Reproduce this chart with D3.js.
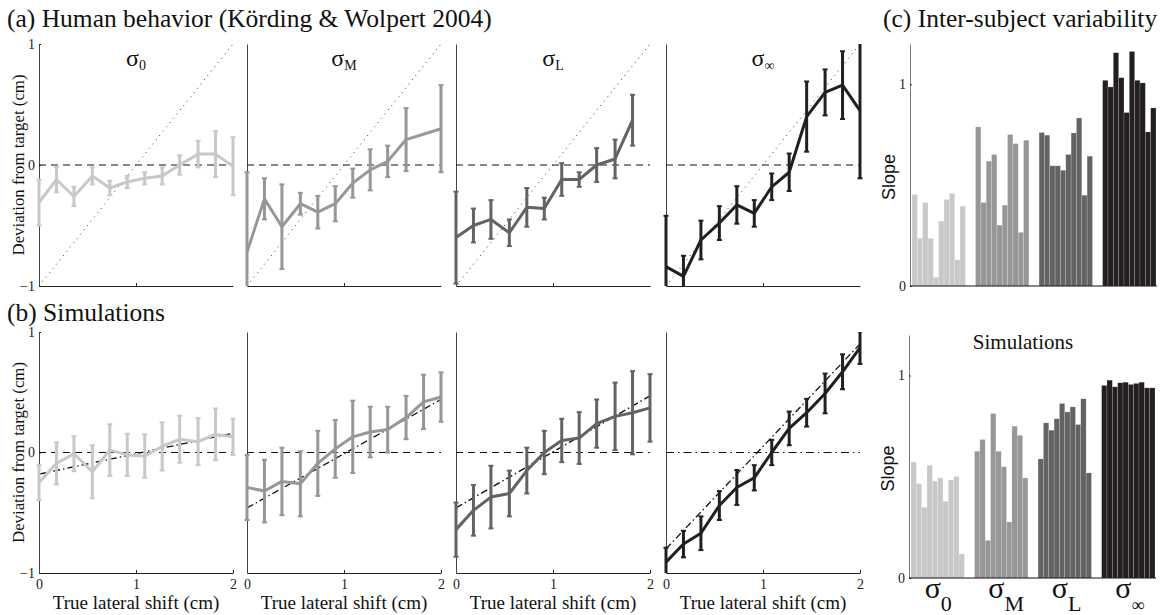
<!DOCTYPE html>
<html>
<head>
<meta charset="utf-8">
<script src="https://cdn.jsdelivr.net/npm/d3@7"></script>
<style>
body{margin:0;background:#fff}
svg{display:block}
.serif{font-family:"Liberation Serif","Times New Roman",serif}
.sans{font-family:"Liberation Sans",Arial,sans-serif}
</style>
</head>
<body>
<svg id="fig" width="1171" height="615"></svg>
<script>
'use strict';

/* ─────────────────────────────────────────────
   DATA
───────────────────────────────────────────── */
const SHIFT = [0,0.18,0.36,0.55,0.73,0.91,1.09,1.27,1.45,1.64,1.82,2];
const COND = ['0','M','L','∞'];
const COLORS = ['#c8c8c8','#97979a','#636365','#231f20'];

// (a) human behaviour : mean deviation and error half-width
const HUM_0_MEAN = [-0.31,-0.12,-0.26,-0.09,-0.19,-0.14,-0.11,-0.09,0.00,0.09,0.09,-0.01];
const HUM_0_ERR  = [0.19,0.105,0.08,0.07,0.06,0.05,0.05,0.07,0.08,0.11,0.19,0.24];
const HUM_M_MEAN = [-0.72,-0.28,-0.51,-0.32,-0.39,-0.32,-0.15,-0.04,0.03,0.21,null,0.30];
const HUM_M_ERR  = [0.66,0.17,0.35,0.09,0.135,0.145,0.12,0.17,0.13,0.26,null,0.36];
const HUM_L_MEAN = [-0.60,-0.50,-0.45,-0.56,-0.35,-0.36,-0.12,-0.12,0.00,0.05,0.37,null];
const HUM_L_ERR  = [0.38,0.14,0.16,0.11,0.16,0.09,0.135,0.06,0.14,0.16,0.21,null];
const HUM_I_MEAN = [-0.84,-0.92,-0.62,-0.48,-0.33,-0.40,-0.18,-0.06,0.40,0.60,0.66,0.45];
const HUM_I_ERR  = [0.42,0.17,0.16,0.14,0.155,0.11,0.11,0.155,0.29,0.19,0.28,0.56];

// (b) simulations
const SIM_0_MEAN = [-0.25,-0.09,-0.01,-0.16,0.02,-0.02,-0.03,0.05,0.11,0.09,0.15,0.13];
const SIM_0_ERR  = [0.145,0.175,0.145,0.22,0.215,0.175,0.18,0.2,0.195,0.195,0.215,0.15];
const SIM_M_MEAN = [-0.29,-0.32,-0.24,-0.26,-0.09,0.03,0.13,0.17,0.19,0.29,0.42,0.46];
const SIM_M_ERR  = [0.27,0.26,0.28,0.27,0.27,0.24,0.30,0.21,0.19,0.18,0.225,0.205];
const SIM_L_MEAN = [-0.64,-0.48,-0.37,-0.34,-0.15,0.00,0.10,0.12,0.24,0.30,0.33,0.37];
const SIM_L_ERR  = [0.225,0.21,0.26,0.19,0.19,0.18,0.18,0.215,0.2,0.28,0.345,0.28];
const SIM_I_MEAN = [-0.91,-0.76,-0.67,-0.44,-0.29,-0.21,0.00,0.20,0.33,0.49,0.67,0.87];
const SIM_I_ERR  = [0.12,0.11,0.14,0.12,0.145,0.105,0.105,0.14,0.115,0.165,0.145,0.135];

// linear fits drawn in the simulation panels (value at shift 0 and at shift 2)
const FIT_AT_0 = [-0.18,-0.46,-0.46,-0.80];
const FIT_AT_2 = [0.16,0.44,0.47,0.90];
// reference line: no prior (full correction)
const REF_LINE = [[0,-1],[2,1]];

// (c) slopes per subject
const SLOPE_HUM_0 = [0.454,0.236,0.413,0.236,0.043,0.322,0.429,0.459,0.129,0.396];
const SLOPE_HUM_M = [0.789,0.414,0.619,0.652,0.302,0.401,0.751,0.706,0.266,0.723];
const SLOPE_HUM_L = [0.761,0.748,0.596,0.596,0.574,0.652,0.759,0.833,0.450,0.644];
const SLOPE_HUM_I = [1.020,0.987,1.157,1.033,0.860,1.163,1.020,1.007,0.764,0.883];
const SLOPE_SIM_0 = [0.572,0.466,0.349,0.557,0.478,0.494,0.379,0.484,0.501,0.119];
const SLOPE_SIM_M = [0.626,0.684,0.186,0.812,0.626,0.549,0.277,0.750,0.705,0.494];
const SLOPE_SIM_L = [0.588,0.766,0.730,0.786,0.862,0.820,0.845,0.758,0.885,0.519];
const SLOPE_SIM_I = [0.951,0.977,0.944,0.964,0.967,0.956,0.961,0.967,0.939,0.939];

const Y_TICKS = [-1,0,1];
const X_TICKS = [0,1,2];
const SLOPE_TICKS = [0,1];

/* ─────────────────────────────────────────────
   LAYOUT
───────────────────────────────────────────── */
const svg = d3.select('#fig');
const PANEL_X = [39,247,456,666];
const PANEL_W = 194;
const ROWS = [
  {top:44, bottom:286, human:true},
  {top:332, bottom:573, human:false}
];

const fmt = d => d < 0 ? '\u2212' + Math.abs(d) : String(d);

function series(meanArr, errArr){
  return SHIFT.map((s,i)=>({x:s, m:meanArr[i], e:errArr[i]}));
}

const HUMAN = [
  series(HUM_0_MEAN,HUM_0_ERR), series(HUM_M_MEAN,HUM_M_ERR),
  series(HUM_L_MEAN,HUM_L_ERR), series(HUM_I_MEAN,HUM_I_ERR)
];
const SIM = [
  series(SIM_0_MEAN,SIM_0_ERR), series(SIM_M_MEAN,SIM_M_ERR),
  series(SIM_L_MEAN,SIM_L_ERR), series(SIM_I_MEAN,SIM_I_ERR)
];

function sigmaLabel(sel, sub, subSize, dy){
  sel.append('tspan').text('σ');
  sel.append('tspan').attr('font-size',subSize).attr('dy',dy).text(sub);
}

/* ─────────────────────────────────────────────
   LINE PANELS
───────────────────────────────────────────── */
function drawPanel(row, p, data, rowIdx){
  const h = row.bottom - row.top;
  const x = d3.scaleLinear().domain([0,2]).range([0,PANEL_W]);
  const y = d3.scaleLinear().domain([-1,1]).range([h,0]);
  const g = svg.append('g').attr('transform',`translate(${PANEL_X[p]},${row.top})`);
  const clipId = `clip-${rowIdx}-${p}`;
  g.append('clipPath').attr('id',clipId)
    .append('rect').attr('x',-4).attr('y',0).attr('width',PANEL_W+8).attr('height',h);

  // axes
  const xAxis = d3.axisBottom(x).tickValues(row.human ? [1] : X_TICKS)
    .tickSize(-3).tickSizeOuter(0)
    .tickFormat(row.human ? () => '' : d3.format('d'));
  const xa = g.append('g').attr('transform',`translate(0,${h})`).call(xAxis);
  xa.select('.domain').attr('stroke','#222');
  xa.selectAll('.tick line').attr('stroke','#222');
  xa.selectAll('.tick text').attr('class','serif').attr('font-size',14)
    .attr('y',6).attr('dy','0.71em').attr('fill','#222');

  const yAxis = d3.axisLeft(y).tickValues(p === 0 ? Y_TICKS : []).tickSize(-2).tickSizeOuter(0).tickFormat(fmt);
  const ya = g.append('g').call(yAxis);
  ya.select('.domain').attr('stroke', '#444');
  ya.selectAll('.tick line').attr('stroke','#222');
  ya.selectAll('.tick text').attr('class','serif').attr('font-size',14).attr('x',-4).attr('fill','#222');

  const plot = g.append('g').attr('clip-path',`url(#${clipId})`);

  // zero line
  plot.append('line')
    .attr('x1',x(0)).attr('x2',x(2)).attr('y1',y(0)).attr('y2',y(0))
    .attr('stroke','#111').attr('stroke-width',1.2)
    .attr('stroke-dasharray', (!row.human && p === 3) ? '8,4,1.5,4' : '7,5');

  const ln = d3.line().x(d=>x(d[0])).y(d=>y(d[1]));
  if(row.human){
    plot.append('path').attr('d',ln(REF_LINE))
      .attr('fill','none').attr('stroke','#333').attr('stroke-width',1)
      .attr('stroke-dasharray','1,4.5');
  } else {
    plot.append('path').attr('d',ln([[0,FIT_AT_0[p]],[2,FIT_AT_2[p]]]))
      .attr('fill','none').attr('stroke','#111').attr('stroke-width',1.3)
      .attr('stroke-dasharray','7,3,1.5,3');
  }

  const col = COLORS[p];
  const pts = data.filter(d=>d.m !== null);

  // error bars
  const eb = plot.selectAll('.eb').data(pts).enter().append('g').attr('class','eb');
  eb.append('line')
    .attr('x1',d=>x(d.x)).attr('x2',d=>x(d.x))
    .attr('y1',d=>y(d.m - d.e)).attr('y2',d=>y(d.m + d.e))
    .attr('stroke',col).attr('stroke-width',3);
  eb.append('line')
    .attr('x1',d=>x(d.x)-2.5).attr('x2',d=>x(d.x)+2.5)
    .attr('y1',d=>y(d.m - d.e)).attr('y2',d=>y(d.m - d.e))
    .attr('stroke',col).attr('stroke-width',2);
  eb.append('line')
    .attr('x1',d=>x(d.x)-2.5).attr('x2',d=>x(d.x)+2.5)
    .attr('y1',d=>y(d.m + d.e)).attr('y2',d=>y(d.m + d.e))
    .attr('stroke',col).attr('stroke-width',2);

  // mean line
  plot.append('path')
    .datum(pts)
    .attr('d',d3.line().x(d=>x(d.x)).y(d=>y(d.m)))
    .attr('fill','none').attr('stroke',col).attr('stroke-width',3)
    .attr('stroke-linejoin','round');

  // condition title (top row) / x label (bottom row)
  if(row.human){
    const t = g.append('text').attr('class','serif')
      .attr('x',PANEL_W/2).attr('y',22).attr('text-anchor','middle')
      .attr('font-size',24).attr('fill','#111');
    sigmaLabel(t, COND[p], 14, 4);
  } else {
    g.append('text').attr('class','serif')
      .attr('x',PANEL_W/2).attr('y',h+36).attr('text-anchor','middle')
      .attr('font-size',19).attr('fill','#111')
      .text('True lateral shift (cm)');
  }

  if(p === 0){
    g.append('text').attr('class','serif')
      .attr('transform',`translate(-15,${h/2}) rotate(-90)`)
      .attr('text-anchor','middle').attr('font-size',16.8).attr('fill','#111')
      .text('Deviation from target (cm)');
  }
}

ROWS.forEach((row,ri)=>{
  const data = row.human ? HUMAN : SIM;
  PANEL_X.forEach((_,p)=>drawPanel(row,p,data[p],ri));
});

/* ─────────────────────────────────────────────
   SLOPE BARS
───────────────────────────────────────────── */
const BAR_ROWS = [
  {top:44, bottom:286, axisX:910, slopes:[SLOPE_HUM_0,SLOPE_HUM_M,SLOPE_HUM_L,SLOPE_HUM_I]},
  {top:335, bottom:578, axisX:909, slopes:[SLOPE_SIM_0,SLOPE_SIM_M,SLOPE_SIM_L,SLOPE_SIM_I]}
];

BAR_ROWS.forEach((br,bi)=>{
  const y = d3.scaleLinear().domain([0,1.2]).range([br.bottom,br.top]);
  const xG = d3.scaleBand().domain(COND).range([br.axisX+2, br.axisX+246]).paddingInner(0.16);
  const xB = d3.scaleBand().domain(d3.range(10)).range([0,xG.bandwidth()]);
  const g = svg.append('g');

  COND.forEach((c,ci)=>{
    g.append('g').attr('transform',`translate(${xG(c)},0)`)
      .selectAll('rect').data(br.slopes[ci]).enter().append('rect')
      .attr('x',(d,i)=>xB(i)).attr('width',xB.bandwidth())
      .attr('y',d=>y(d)).attr('height',d=>y(0)-y(d))
      .attr('fill',COLORS[ci])
      .attr('stroke','rgba(255,255,255,0.35)').attr('stroke-width',0.5);
  });

  // axes
  const ya = g.append('g').attr('transform',`translate(${br.axisX},0)`)
    .call(d3.axisLeft(y).tickValues(SLOPE_TICKS).tickSize(-2).tickSizeOuter(0).tickFormat(d3.format('d')));
  ya.select('.domain').attr('stroke','#777');
  ya.selectAll('.tick line').attr('stroke','#333');
  ya.selectAll('.tick text').attr('class','serif').attr('font-size',14).attr('x',-4).attr('fill','#222');

  g.append('line').attr('x1',br.axisX).attr('x2',br.axisX+247)
    .attr('y1',y(0)).attr('y2',y(0)).attr('stroke','#111').attr('stroke-width',1.2);

  g.append('text').attr('class','sans')
    .attr('transform',`translate(${br.axisX-15},${(br.top+br.bottom)/2 + 12}) rotate(-90)`)
    .attr('text-anchor','middle').attr('font-size',18).attr('fill','#111')
    .text('Slope');

  if(bi === 1){
    g.append('text').attr('class','serif')
      .attr('x',1023).attr('y',349).attr('text-anchor','middle')
      .attr('font-size',21).attr('fill','#111').text('Simulations');
    COND.forEach((c,ci)=>{
      const t = g.append('text').attr('class','serif')
        .attr('x',xG(c) + xG.bandwidth()/2 - 13).attr('y',598)
        .attr('font-size',30).attr('fill','#111');
      sigmaLabel(t, c, c === '∞' ? 18 : 22, 13);
    });
  }
});

/* ─────────────────────────────────────────────
   HEADINGS
───────────────────────────────────────────── */
const heads = [
  {x:7, y:27, t:'(a) Human behavior (Körding & Wolpert 2004)'},
  {x:7, y:321, t:'(b) Simulations'},
  {x:883, y:27, t:'(c) Inter-subject variability'}
];
svg.selectAll('.head').data(heads).enter().append('text')
  .attr('class','head serif')
  .attr('x',d=>d.x).attr('y',d=>d.y)
  .attr('font-size',25.5).attr('fill','#111')
  .attr('xml:space','preserve')
  .text(d=>d.t);
</script>
</body>
</html>
